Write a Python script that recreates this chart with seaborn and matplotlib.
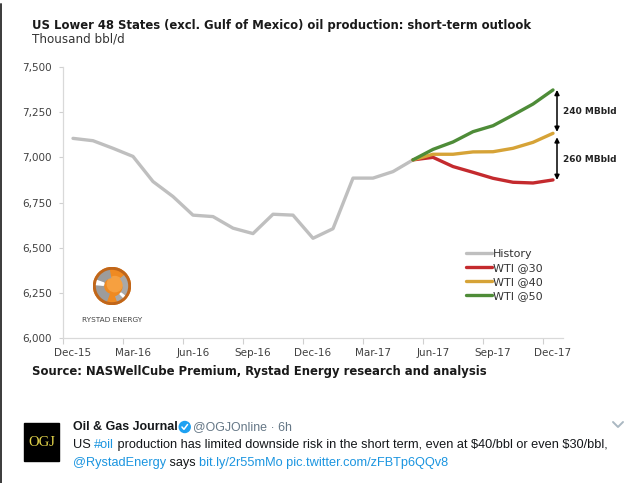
import pandas as pd
import seaborn as sns
import matplotlib.pyplot as plt
from matplotlib.patches import Circle, Rectangle, Wedge, Ellipse
from matplotlib.lines import Line2D

# monthly categories Dec-15 .. Dec-17
months = ["Dec-15", "Jan-16", "Feb-16", "Mar-16", "Apr-16", "May-16", "Jun-16",
          "Jul-16", "Aug-16", "Sep-16", "Oct-16", "Nov-16", "Dec-16", "Jan-17",
          "Feb-17", "Mar-17", "Apr-17", "May-17", "Jun-17", "Jul-17", "Aug-17",
          "Sep-17", "Oct-17", "Nov-17", "Dec-17"]
tick_labels = ["Dec-15", "Mar-16", "Jun-16", "Sep-16", "Dec-16",
               "Mar-17", "Jun-17", "Sep-17", "Dec-17"]

# Thousand bbl/d
history = [7105, 7092, 7050, 7005, 6866, 6783, 6680, 6672, 6608, 6578,
           6685, 6680, 6552, 6605, 6885, 6885, 6921, 6986]          # Dec-15 .. May-17
wti30 = [6986, 7000, 6949, 6917, 6884, 6862, 6858, 6875]              # May-17 .. Dec-17
wti40 = [6986, 7017, 7017, 7030, 7031, 7050, 7083, 7133]
wti50 = [6986, 7044, 7085, 7142, 7175, 7234, 7295, 7373]

series_names = ["History", "WTI @30", "WTI @40", "WTI @50"]
colors = ["#bfbfbf", "#c42a2e", "#d6a337", "#4e8c38"]

rows = []
for i, v in enumerate(history):
    rows.append(["History", i, v])
start = len(history) - 1
for name, vals in zip(series_names[1:], [wti30, wti40, wti50]):
    for j, v in enumerate(vals):
        rows.append([name, start + j, v])
df = pd.DataFrame(rows, columns=["series", "idx", "value"])

sns.set_theme(style="white")
plt.rcParams["font.family"] = ["DejaVu Sans"]

W, H = 640, 483
fig = plt.figure(figsize=(6.4, 4.83), dpi=100)
fig.patch.set_facecolor("white")


def fx(x):
    return x / W


def fy(y):
    return 1 - y / H


ax = fig.add_axes([fx(63), fy(338), 500 / W, 271 / H])
sns.lineplot(data=df, x="idx", y="value", hue="series", hue_order=series_names,
             palette=colors, linewidth=2.4, ax=ax, legend=True)
for ln in ax.lines:
    ln.set_solid_capstyle("round")
    ln.set_solid_joinstyle("round")

ax.set_xlim(-0.5, 24.5)
ax.set_ylim(6000, 7500)
ax.set_xlabel("")
ax.set_ylabel("")
yt = list(range(6000, 7501, 250))
ax.set_yticks(yt)
ax.set_yticklabels([f"{v:,}" for v in yt])
ax.set_xticks([months.index(m) for m in tick_labels])
ax.set_xticklabels(tick_labels)
ax.set_xticks([k - 0.5 for k in range(0, 25, 3)], minor=True)
ax.tick_params(axis="x", which="major", length=0, pad=7, labelsize=7.5, labelcolor="#404040")
ax.tick_params(axis="x", which="minor", length=4, width=0.8, color="#d0d0d0", bottom=True)
ax.tick_params(axis="y", length=3, width=0.8, color="#d0d0d0", pad=5, labelsize=7.5,
               labelcolor="#404040", left=True)
for s in ["top", "right"]:
    ax.spines[s].set_visible(False)
for s in ["left", "bottom"]:
    ax.spines[s].set_color("#d9d9d9")
    ax.spines[s].set_linewidth(0.9)

handles, labels = ax.get_legend_handles_labels()
ax.legend(handles, labels, loc="upper left", bbox_to_anchor=(fx(466), fy(249)),
          bbox_transform=fig.transFigure, frameon=False, fontsize=8,
          handlelength=2.3, handletextpad=0.15, labelspacing=0.35, borderpad=0,
          borderaxespad=0, labelcolor="#333333")

# spread arrows
arrow_kw = dict(arrowstyle="<|-|>", color="black", lw=1.1, mutation_scale=7,
                shrinkA=0, shrinkB=0)
ax.annotate("", xy=(24.2, wti50[-1]), xytext=(24.2, wti40[-1] + 8),
            arrowprops=arrow_kw, annotation_clip=False)
ax.annotate("", xy=(24.2, wti40[-1] - 22), xytext=(24.2, wti30[-1]),
            arrowprops=arrow_kw, annotation_clip=False)
ax.text(24.5, 7255, "240 MBbld", fontsize=6.5, fontweight="bold", va="center",
        ha="left", color="#222222", clip_on=False)
ax.text(24.5, 6987, "260 MBbld", fontsize=6.5, fontweight="bold", va="center",
        ha="left", color="#222222", clip_on=False)

# titles
fig.text(fx(32), fy(25), "US Lower 48 States (excl. Gulf of Mexico) oil production: short-term outlook",
         fontsize=8.4, fontweight="bold", va="center", ha="left", color="#1a1a1a")
fig.text(fx(32), fy(39), "Thousand bbl/d", fontsize=8.6, va="center", ha="left", color="#333333")
fig.text(fx(32), fy(372), "Source: NASWellCube Premium, Rystad Energy research and analysis",
         fontsize=8.4, fontweight="bold", va="center", ha="left", color="#1a1a1a")

# Rystad logo
lax = fig.add_axes([fx(93), fy(305), 38 / W, 38 / H])
lax.set_xlim(-1, 1)
lax.set_ylim(-1, 1)
lax.set_aspect("equal")
lax.axis("off")
lax.add_patch(Circle((0, 0), 0.97, color="#ef8a22"))
lax.add_patch(Circle((0.15, 0.1), 0.4, color="#f6a040"))
lax.add_patch(Wedge((0, 0), 0.9, 100, 250, width=0.45, color="#9c9c9c"))
lax.add_patch(Wedge((0, 0), 0.9, 290, 40, width=0.3, color="#a9a9a9"))
lax.add_patch(Wedge((0, 0), 0.9, 160, 175, width=0.45, color="white"))
lax.add_patch(Wedge((0, 0), 0.9, 315, 322, width=0.3, color="white"))
lax.add_patch(Wedge((0, 0), 0.97, 0, 360, width=0.08, color="#c0661a"))
fig.text(fx(112), fy(320), "RYSTAD ENERGY", fontsize=5.3, ha="center", va="center",
         color="#444444")

# tweet section
fig.add_artist(Line2D([fx(1), fx(1)], [fy(4), 0], color="#3a3a3a", lw=1.4))
fig.add_artist(Rectangle((fx(24), fy(461)), 35 / W, 38 / H, color="black",
                         transform=fig.transFigure))
fig.text(fx(41.5), fy(442), "OGJ", fontsize=10.5, family=["Liberation Serif"],
         color="#e3d44a", ha="center", va="center")

renderer = fig.canvas.get_renderer()


def text_w(s, **kw):
    t = fig.text(0, 0, s, **kw)
    w = t.get_window_extent(renderer).width
    t.remove()
    return w


def run(pieces, x, y, **kw):
    for s, color, extra in pieces:
        props = dict(kw)
        props.update(extra)
        fig.text(fx(x), fy(y), s, color=color, va="center", ha="left", **props)
        x += text_w(s + "x", **props) - text_w("x", **props)
    return x


head = dict(family=["Liberation Sans", "DejaVu Sans"], fontsize=8.9)
tw = dict(family=["Liberation Sans", "DejaVu Sans"], fontsize=9.2)
dark = "#14171a"
blue = "#1b95e0"
x_end = run([("Oil & Gas Journal", dark, {"fontweight": "bold"})], 73, 427, **head)
bx = x_end + 7
fig.add_artist(Ellipse((fx(bx), fy(427)), 11 / W, 11 / H, color="#1da1f2",
                       transform=fig.transFigure))
fig.add_artist(Line2D([fx(bx - 2.8), fx(bx - 0.8), fx(bx + 2.8)],
                      [fy(427), fy(429.3), fy(424.5)], color="white", lw=1.1))
run([("@OGJOnline · 6h", "#657786", {})], bx + 8, 427, **head)
run([("US ", dark, {}), ("#oil", blue, {}),
     (r" production has limited downside risk in the short term, even at \$40/bbl or even \$30/bbl,", dark, {})],
    73, 445, **tw)
run([("@RystadEnergy", blue, {}), (" says ", dark, {}),
     ("bit.ly/2r55mMo pic.twitter.com/zFBTp6QQv8", blue, {})], 73, 463, **tw)
fig.add_artist(Line2D([fx(613), fx(618), fx(623)], [fy(422), fy(427), fy(422)],
                      color="#aab8c2", lw=1.4))

fig.savefig("out.png", dpi=100)
